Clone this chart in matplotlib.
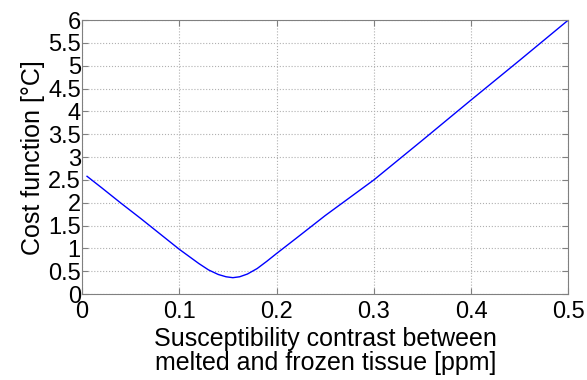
import matplotlib
matplotlib.use('Agg')
import matplotlib.pyplot as plt
import numpy as np

# curve
chi_contrast = [0.005, 0.02, 0.04, 0.06, 0.08, 0.10, 0.12, 0.13, 0.14, 0.148,
                0.155, 0.162, 0.17, 0.18, 0.19, 0.20, 0.22, 0.25, 0.30, 0.35,
                0.40, 0.45, 0.50]
cost = [2.58, 2.33, 1.99, 1.66, 1.32, 0.98, 0.67, 0.53, 0.43, 0.38,
        0.36, 0.38, 0.44, 0.56, 0.72, 0.89, 1.22, 1.72, 2.50, 3.37,
        4.25, 5.12, 6.00]

x_ticks = [0, 0.1, 0.2, 0.3, 0.4, 0.5]
x_tick_labels = ['0', '0.1', '0.2', '0.3', '0.4', '0.5']
y_ticks = np.arange(0, 6.01, 0.5)
y_tick_labels = ['0', '0.5', '1', '1.5', '2', '2.5', '3', '3.5', '4', '4.5', '5', '5.5', '6']


def main():
    plt.rcParams['font.family'] = ['Liberation Sans', 'DejaVu Sans']

    fig = plt.figure(figsize=(5.87, 3.80), dpi=100)
    ax = fig.add_axes([0.140, 0.226, 0.828, 0.721])

    ax.plot(chi_contrast, cost, color='#0000ff', linewidth=1.0)

    ax.set_xlim(0, 0.5)
    ax.set_ylim(0, 6)
    ax.set_xticks(x_ticks)
    ax.set_xticklabels(x_tick_labels)
    ax.set_yticks(y_ticks)
    ax.set_yticklabels(y_tick_labels)

    ax.grid(True, linestyle=':', color='#b0b0b0', linewidth=0.8)
    ax.tick_params(direction='in', length=4, width=0.8, color='#808080',
                   labelsize=17, top=True, right=True, pad=1)
    ax.tick_params(axis='x', pad=5)
    for spine in ax.spines.values():
        spine.set_color('#808080')
        spine.set_linewidth(0.8)

    ax.set_xlabel("Susceptibility contrast between\nmelted and frozen tissue [ppm]",
                  fontsize=18, linespacing=0.98, labelpad=3)
    ax.set_ylabel("Cost function [\u00b0C]", fontsize=18, labelpad=2)

    fig.savefig('out.png', dpi=100)


if __name__ == '__main__':
    main()
